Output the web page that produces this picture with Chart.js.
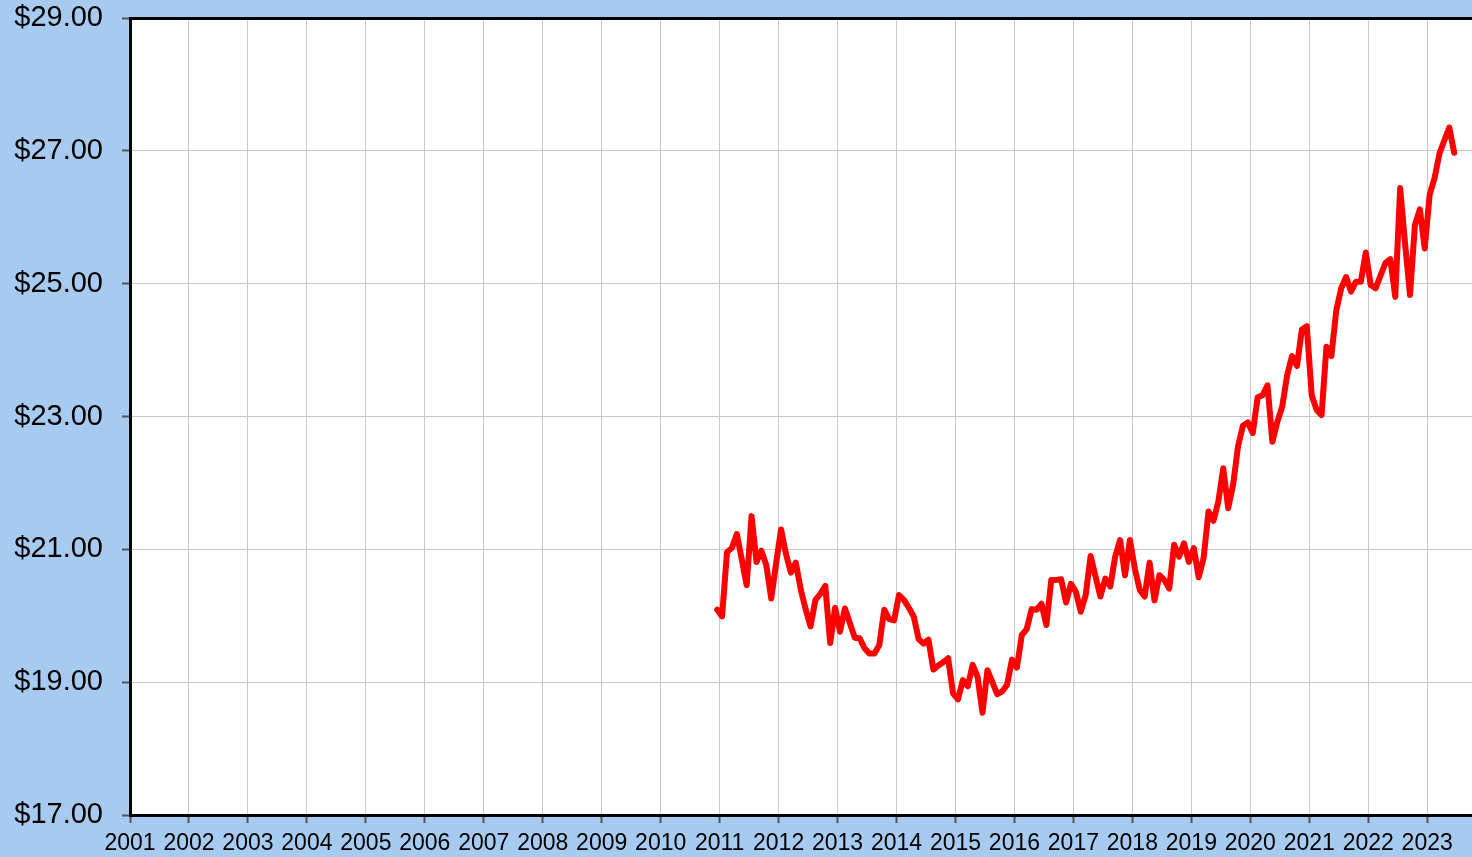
<!DOCTYPE html>
<html>
<head>
<meta charset="utf-8">
<title>Price per month</title>
<script src="https://cdn.jsdelivr.net/npm/chart.js@4.4.1/dist/chart.umd.min.js"></script>
<style>
  html, body { margin: 0; padding: 0; background: #a6caf0; }
  #wrap { width: 1472px; height: 857px; }
</style>
</head>
<body>
<div id="wrap"><canvas id="priceChart" width="1472" height="857"></canvas></div>
<script>
// monthly series, first value is December 2010, plotted at mid-month
const startYear = 2010;
const startMonth = 11; // 0 = January
const prices = [
  20.09, 19.99, 20.96, 21.02, 21.23, 20.85, 20.46, 21.50, 20.81, 20.98, 20.76, 20.26,
  20.79, 21.30, 20.93, 20.65, 20.80, 20.40, 20.10, 19.84, 20.24, 20.33, 20.45, 19.59,
  20.12, 19.76, 20.11, 19.89, 19.67, 19.66, 19.51, 19.43, 19.43, 19.56, 20.09, 19.95,
  19.93, 20.31, 20.24, 20.12, 19.99, 19.65, 19.58, 19.64, 19.19, 19.25, 19.30, 19.36,
  18.83, 18.74, 19.03, 18.94, 19.26, 19.08, 18.54, 19.18, 19.00, 18.82, 18.86, 18.96,
  19.34, 19.22, 19.71, 19.80, 20.10, 20.09, 20.18, 19.86, 20.54, 20.54, 20.55, 20.20,
  20.48, 20.36, 20.06, 20.31, 20.90, 20.59, 20.29, 20.56, 20.44, 20.89, 21.14, 20.61,
  21.14, 20.71, 20.39, 20.29, 20.80, 20.23, 20.61, 20.54, 20.41, 21.07, 20.89, 21.09,
  20.81, 21.02, 20.58, 20.87, 21.57, 21.43, 21.72, 22.22, 21.62, 21.97, 22.55, 22.86,
  22.91, 22.75, 23.29, 23.32, 23.47, 22.62, 22.92, 23.15, 23.62, 23.91, 23.76, 24.31,
  24.36, 23.32, 23.10, 23.02, 24.05, 23.91, 24.60, 24.93, 25.10, 24.88, 25.03, 25.03,
  25.47, 24.98, 24.93, 25.12, 25.31, 25.37, 24.80, 26.44, 25.60, 24.83, 25.88, 26.12,
  25.53, 26.34, 26.59, 26.96, 27.16, 27.35, 26.97
];
const yearTicks = [2001, 2002, 2003, 2004, 2005, 2006, 2007, 2008, 2009, 2010, 2011, 2012,
  2013, 2014, 2015, 2016, 2017, 2018, 2019, 2020, 2021, 2022, 2023];
const priceTicks = [17, 19, 21, 23, 25, 27, 29];
const xEnd = 2023.76;

const points = prices.map((p, i) => ({ x: startYear + (startMonth + i + 0.5) / 12, y: p }));

// white plot area and the top frame line
const plotFrame = {
  id: 'plotFrame',
  beforeDraw(chart) {
    const { ctx, chartArea: a } = chart;
    ctx.save();
    ctx.fillStyle = '#ffffff';
    ctx.fillRect(a.left, a.top, a.right - a.left, a.bottom - a.top);
    ctx.restore();
  },
  afterDraw(chart) {
    const { ctx, chartArea: a } = chart;
    ctx.save();
    ctx.strokeStyle = '#000000';
    ctx.lineWidth = 3;
    ctx.beginPath();
    ctx.moveTo(a.left - 1, a.top + 0.5);
    ctx.lineTo(a.right, a.top + 0.5);
    ctx.stroke();
    ctx.restore();
  }
};

const font = 'Liberation Sans, Arial, sans-serif';

new Chart(document.getElementById('priceChart'), {
  type: 'line',
  data: {
    datasets: [{
      data: points,
      borderColor: '#ff0000',
      borderWidth: 6,
      borderJoinStyle: 'round',
      borderCapStyle: 'round',
      pointRadius: 0,
      tension: 0,
      fill: false
    }]
  },
  options: {
    responsive: false,
    animation: false,
    devicePixelRatio: 1,
    layout: { padding: { top: 18, left: 0, right: 0, bottom: 0 } },
    plugins: { legend: { display: false }, tooltip: { enabled: false } },
    scales: {
      x: {
        type: 'linear',
        min: yearTicks[0],
        max: xEnd,
        afterBuildTicks: scale => { scale.ticks = yearTicks.map(v => ({ value: v })); },
        afterFit: scale => { scale.height = 42; scale.paddingLeft = 0; scale.paddingRight = 0; },
        grid: { color: '#c8c8c8', lineWidth: 1, tickLength: 8, tickColor: '#555555', tickWidth: 2 },
        border: { color: '#000000', width: 3 },
        ticks: {
          padding: 7,
          maxRotation: 0,
          autoSkip: false,
          color: '#000000',
          font: { family: font, size: 23 },
          callback: v => String(v)
        }
      },
      y: {
        min: priceTicks[0],
        max: priceTicks[priceTicks.length - 1],
        afterBuildTicks: scale => { scale.ticks = priceTicks.map(v => ({ value: v })); },
        afterFit: scale => { scale.width = 130; scale.paddingTop = 0; scale.paddingBottom = 0; },
        grid: { color: '#c8c8c8', lineWidth: 1, tickLength: 8, tickColor: '#555555', tickWidth: 2 },
        border: { color: '#000000', width: 3 },
        ticks: {
          padding: 19,
          color: '#000000',
          font: { family: font, size: 29 },
          callback: v => '$' + Number(v).toFixed(2)
        }
      }
    }
  },
  plugins: [plotFrame]
});
</script>
</body>
</html>
